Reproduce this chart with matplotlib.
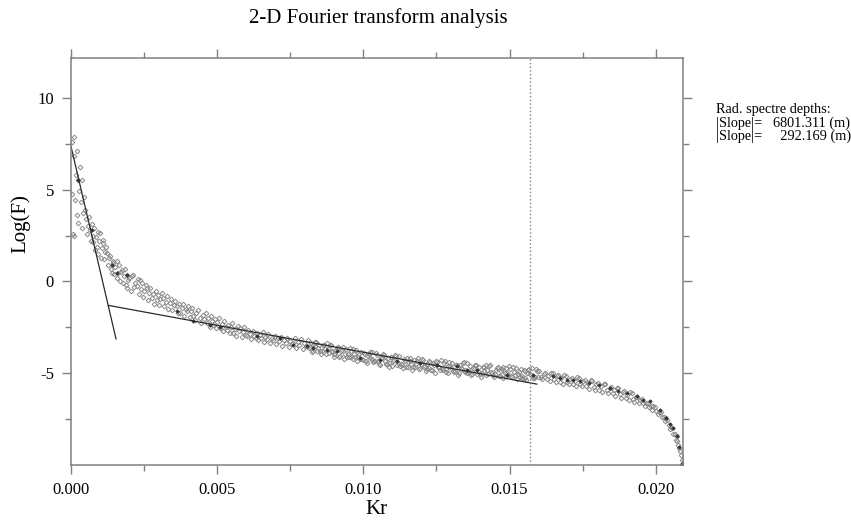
import numpy as np
import matplotlib.pyplot as plt
from matplotlib.ticker import MultipleLocator, FormatStrFormatter

plt.rcParams["font.family"] = ["Liberation Serif", "DejaVu Serif"]
plt.rcParams["axes.unicode_minus"] = False

# Radial spectrum samples: (Kr * 1e4, Log(F))
low_k = [
    (0.3, 7.6), (0.4, 4.77), (0.6, 2.6), (0.9, 6.8), (1.1, 7.85), (1.1, 2.48),
    (1.4, 4.44), (1.6, 5.8), (2.0, 7.07), (2.2, 3.6), (2.5, 5.53), (2.5, 3.17),
    (2.8, 4.9), (3.0, 6.25), (3.3, 4.31), (3.6, 5.53), (3.9, 2.9), (4.2, 3.72),
    (4.5, 4.6), (4.8, 3.9), (5.2, 3.4), (5.5, 2.6), (5.8, 3.0), (6.1, 3.5),
    (6.5, 2.8), (6.8, 2.2), (7.1, 3.1), (7.4, 2.5), (7.6, 2.17), (7.9, 2.9),
    (8.2, 1.7), (8.5, 2.4), (8.8, 1.9), (9.1, 2.7), (9.4, 1.5), (9.7, 2.2),
    (9.9, 2.64), (10.3, 1.3), (10.5, 1.8), (10.8, 2.1), (11.0, 2.27), (11.3, 1.2),
    (11.6, 1.6), (12.0, 1.9), (12.2, 1.54), (12.5, 0.9), (12.9, 1.3), (13.3, 1.36),
    (13.6, 0.7), (13.9, 0.46), (14.2, 1.1), (14.5, 1.0), (14.8, 0.4), (15.2, 0.8),
    (15.6, 1.09), (15.9, 0.2), (16.2, 0.46), (16.5, 0.9), (16.8, 0.0), (17.1, 0.5),
    (17.3, 0.64), (17.7, -0.1), (18.0, 0.3), (18.4, 0.7), (18.7, -0.2), (19.0, 0.36),
    (19.3, -0.36), (19.6, 0.1), (20.0, 0.18), (20.4, -0.5), (20.8, 0.3), (21.3, 0.36),
    (21.6, -0.3), (22.0, -0.1), (22.5, -0.27), (22.9, 0.15), (23.3, -0.7), (23.6, 0.09),
    (24.0, -0.4), (24.4, -0.1), (24.7, -0.82), (25.1, -0.5), (25.5, -0.2), (25.9, -0.36),
    (26.3, -1.0), (26.7, -0.6), (27.1, -0.35), (27.6, -0.9), (28.0, -0.7), (28.5, -1.2),
    (28.9, -0.5), (29.3, -1.0), (29.8, -0.75), (30.2, -1.3), (30.6, -0.95), (31.0, -0.6),
    (31.6, -0.9), (31.9, -1.36), (32.4, -1.1), (32.8, -0.8), (33.2, -1.5), (33.9, -1.18),
    (34.3, -0.95), (34.7, -1.55), (35.2, -1.3), (35.6, -1.05), (36.1, -1.36), (36.6, -1.7),
    (37.0, -1.2), (37.3, -1.72), (37.8, -1.45), (38.3, -1.25), (38.8, -1.85), (39.2, -1.5),
    (39.6, -1.63), (40.1, -1.35), (40.6, -1.95), (41.0, -1.6), (41.5, -1.45), (41.8, -1.9),
    (42.4, -2.1), (42.9, -1.7), (43.4, -1.55), (44.1, -1.99), (44.6, -2.25), (45.0, -1.8),
    (45.6, -2.05), (46.0, -1.7), (46.4, -2.26), (46.9, -2.0), (47.4, -2.45), (47.8, -1.9),
    (48.2, -2.15), (48.7, -2.35), (49.2, -2.05), (49.7, -2.55), (50.1, -2.2), (50.6, -2.0),
    (51.0, -2.53), (51.5, -2.3), (52.0, -2.7), (52.4, -2.15), (52.9, -2.45), (53.3, -2.62),
    (53.8, -2.35), (54.3, -2.8), (54.7, -2.5), (55.1, -2.25), (55.5, -2.8), (56.0, -2.6),
    (56.5, -2.95), (57.0, -2.4), (57.4, -2.7), (57.9, -2.55), (58.4, -3.0), (58.8, -2.75),
    (59.3, -2.5), (59.7, -2.9), (60.1, -2.99), (60.6, -2.65), (61.1, -2.85), (61.6, -3.15),
    (62.1, -2.7), (62.6, -2.95), (63.1, -3.1), (63.6, -2.8), (64.1, -3.2), (64.6, -2.9),
    (65.0, -3.08), (65.5, -2.75), (66.0, -3.3), (66.5, -3.0), (67.0, -3.15), (67.5, -2.85),
    (68.0, -3.35), (68.6, -3.05), (69.2, -3.17), (69.7, -2.95), (70.2, -3.4), (70.7, -3.1),
    (71.3, -3.25), (71.8, -3.0), (72.3, -3.5), (72.9, -3.2), (73.4, -3.35), (73.9, -3.05),
    (74.4, -3.55), (75.0, -3.25), (75.5, -3.4), (76.0, -3.35), (76.5, -3.1), (77.0, -3.6),
    (77.6, -3.3), (78.1, -3.45), (78.6, -3.15), (79.2, -3.65), (79.7, -3.35), (80.2, -3.5),
    (80.6, -3.53),
]

mid_k = [
    (81.0, -3.16), (81.6, -3.58), (82.3, -3.81), (82.9, -3.44), (83.6, -3.31), (84.2, -3.80),
    (84.9, -3.45), (85.5, -3.97), (86.2, -3.44), (86.8, -3.68), (87.5, -3.35), (88.1, -3.88),
    (88.8, -3.43), (89.4, -3.85), (90.1, -4.08), (90.7, -3.71), (91.4, -3.57), (92.0, -4.06),
    (92.7, -3.71), (93.3, -4.23), (94.0, -3.69), (94.6, -3.93), (95.3, -3.60), (95.9, -4.13),
    (96.6, -3.67), (97.2, -4.09), (97.9, -4.32), (98.5, -3.94), (99.2, -3.81), (99.8, -4.29),
    (100.5, -3.94), (101.1, -4.46), (101.8, -3.92), (102.4, -4.15), (103.1, -3.82), (103.7, -4.34),
    (104.4, -3.88), (105.0, -4.30), (105.7, -4.52), (106.3, -4.15), (107.0, -4.01), (107.6, -4.49),
    (108.3, -4.14), (108.9, -4.65), (109.6, -4.11), (110.2, -4.34), (110.9, -4.01), (111.5, -4.53),
    (112.2, -4.06), (112.8, -4.48), (113.5, -4.70), (114.1, -4.32), (114.8, -4.18), (115.4, -4.66),
    (116.1, -4.30), (116.7, -4.81), (117.4, -4.27), (118.0, -4.50), (118.7, -4.16), (119.3, -4.69),
    (120.0, -4.22), (120.6, -4.63), (121.3, -4.85), (121.9, -4.47), (122.6, -4.32), (123.2, -4.80),
    (123.9, -4.44), (124.5, -4.95), (125.2, -4.40), (125.8, -4.63), (126.5, -4.29), (127.1, -4.81),
    (127.8, -4.34), (128.4, -4.75), (129.1, -4.97), (129.7, -4.59), (130.4, -4.44), (131.0, -4.92),
    (131.7, -4.56), (132.3, -5.06), (133.0, -4.52), (133.6, -4.74), (134.3, -4.40), (134.9, -4.92),
    (135.6, -4.45), (136.2, -4.86), (136.9, -5.08), (137.5, -4.70), (138.2, -4.55), (138.8, -5.03),
    (139.5, -4.67), (140.1, -5.18), (140.8, -4.63), (141.4, -4.86), (142.1, -4.52), (142.7, -5.03),
    (143.4, -4.56), (144.0, -4.97), (144.7, -5.19), (145.3, -4.80), (146.0, -4.65), (146.6, -5.13),
    (147.3, -4.77), (147.9, -5.27), (148.6, -4.72), (149.2, -4.95), (149.9, -4.61), (150.5, -5.13),
    (151.2, -4.66), (151.8, -5.06), (152.5, -5.28), (153.1, -4.90), (153.8, -4.75), (154.4, -5.23),
    (155.1, -4.87), (155.7, -5.37), (156.4, -4.82), (157.0, -5.05), (157.7, -4.71), (158.3, -5.23),
    (159.0, -4.76), (159.6, -5.17),
]

mid_k_fill = [
    (81.3, -3.63), (82.0, -3.32), (82.6, -3.77), (83.3, -3.50), (83.9, -3.29), (84.6, -3.64),
    (85.2, -3.80), (85.9, -3.79), (86.5, -3.48), (87.2, -3.93), (87.8, -3.65), (88.5, -3.45),
    (89.1, -3.80), (89.8, -3.96), (90.4, -3.94), (91.1, -3.63), (91.7, -4.08), (92.4, -3.80),
    (93.0, -3.59), (93.7, -3.94), (94.3, -4.10), (95.0, -4.08), (95.6, -3.77), (96.3, -4.22),
    (96.9, -3.94), (97.6, -3.73), (98.2, -4.08), (98.9, -4.24), (99.5, -4.22), (100.2, -3.91),
    (100.8, -4.35), (101.5, -4.07), (102.1, -3.85), (102.8, -4.20), (103.4, -4.36), (104.1, -4.33),
    (104.7, -4.02), (105.4, -4.47), (106.0, -4.18), (106.7, -3.97), (107.3, -4.31), (108.0, -4.47),
    (108.6, -4.45), (109.3, -4.13), (109.9, -4.58), (110.6, -4.29), (111.2, -4.07), (111.9, -4.42),
    (112.5, -4.57), (113.2, -4.54), (113.8, -4.23), (114.5, -4.67), (115.1, -4.38), (115.8, -4.17),
    (116.4, -4.51), (117.1, -4.66), (117.7, -4.63), (118.4, -4.32), (119.0, -4.76), (119.7, -4.47),
    (120.3, -4.25), (121.0, -4.60), (121.6, -4.75), (122.3, -4.72), (122.9, -4.40), (123.6, -4.84),
    (124.2, -4.55), (124.9, -4.33), (125.5, -4.67), (126.2, -4.82), (126.8, -4.78), (127.5, -4.46),
    (128.1, -4.90), (128.8, -4.61), (129.4, -4.39), (130.1, -4.73), (130.7, -4.88), (131.4, -4.85),
    (132.0, -4.53), (132.7, -4.97), (133.3, -4.68), (134.0, -4.46), (134.6, -4.80), (135.3, -4.95),
    (135.9, -4.92), (136.6, -4.60), (137.2, -5.04), (137.9, -4.75), (138.5, -4.53), (139.2, -4.87),
    (139.8, -5.02), (140.5, -4.99), (141.1, -4.66), (141.8, -5.10), (142.4, -4.81), (143.1, -4.59),
    (143.7, -4.92), (144.4, -5.07), (145.0, -5.04), (145.7, -4.72), (146.3, -5.16), (147.0, -4.86),
    (147.6, -4.64), (148.3, -4.98), (148.9, -5.13), (149.6, -5.10), (150.2, -4.77), (150.9, -5.21),
    (151.5, -4.92), (152.2, -4.70), (152.8, -5.04), (153.5, -5.19), (154.1, -5.15), (154.8, -4.83),
    (155.4, -5.27), (156.1, -4.98), (156.7, -4.76), (157.4, -5.10), (158.0, -5.25), (158.7, -5.22),
    (159.3, -4.89),
]

high_k = [
    (160.2, -4.86), (160.7, -5.17), (161.2, -5.33), (161.7, -5.02), (162.2, -4.97), (162.7, -5.31),
    (163.2, -5.13), (163.7, -5.42), (164.2, -4.96), (164.7, -4.99), (165.2, -5.31), (165.7, -5.46),
    (166.2, -5.16), (166.7, -5.10), (167.2, -5.45), (167.7, -5.26), (168.2, -5.56), (168.7, -5.09),
    (169.2, -5.13), (169.7, -5.44), (170.2, -5.60), (170.7, -5.29), (171.2, -5.23), (171.7, -5.57),
    (172.2, -5.39), (172.7, -5.68), (173.2, -5.21), (173.7, -5.25), (174.2, -5.56), (174.7, -5.71),
    (175.2, -5.41), (175.7, -5.36), (176.2, -5.71), (176.7, -5.53), (177.2, -5.83), (177.7, -5.37),
    (178.2, -5.41), (178.7, -5.73), (179.2, -5.89), (179.7, -5.59), (180.2, -5.54), (180.7, -5.89),
    (181.2, -5.71), (181.7, -6.01), (182.2, -5.56), (182.7, -5.60), (183.2, -5.92), (183.7, -6.08),
    (184.2, -5.79), (184.7, -5.74), (185.2, -6.09), (185.7, -5.92), (186.2, -6.22), (186.7, -5.77),
    (187.2, -5.81), (187.7, -6.14), (188.2, -6.31), (188.7, -6.01), (189.2, -5.97), (189.7, -6.32),
    (190.2, -6.15), (190.7, -6.47), (191.2, -6.02), (191.7, -6.08), (192.2, -6.41), (192.7, -6.58),
    (193.2, -6.30), (193.7, -6.26), (194.2, -6.63), (194.7, -6.46), (195.2, -6.40), (195.7, -6.62),
    (196.2, -6.76), (196.7, -6.60), (197.2, -6.60), (197.7, -6.85), (198.2, -6.78), (198.7, -6.99),
    (199.2, -6.75), (199.7, -6.80), (200.2, -7.04), (200.7, -7.21), (201.2, -7.08), (201.7, -7.11),
    (202.2, -7.39), (202.7, -7.35), (203.2, -7.61), (203.6, -7.42), (204.0, -7.53), (204.4, -7.81),
    (204.8, -8.00), (205.2, -7.91), (205.6, -7.98), (206.0, -8.31), (206.4, -8.31), (206.8, -8.60),
    (207.1, -8.42), (207.4, -8.70), (207.7, -8.90), (208.0, -9.05), (208.3, -9.20), (208.6, -9.45),
    (208.9, -9.70), (209.1, -9.95),
]

# darker (overplotted) samples along the band
dark_k = [
    (2.5, 5.53), (7.1, 2.81), (13.9, 0.9), (15.6, 0.46), (19.0, 0.36), (36.1, -1.63),
    (41.8, -2.17), (47.5, -2.35), (51.0, -2.45), (63.5, -2.99), (71.5, -3.08), (76.0, -3.44),
    (80.6, -3.5), (82.9, -3.62), (87.5, -3.71), (90.9, -3.8), (98.9, -4.16), (105.7, -4.26),
    (111.4, -4.35), (119.4, -4.43), (125.1, -4.53), (131.9, -4.62), (135.4, -4.8), (138.8, -4.8),
    (149.0, -5.07), (158.1, -5.07), (165.0, -5.16), (167.3, -5.25), (169.6, -5.34), (171.8, -5.34),
    (174.1, -5.43), (177.0, -5.5), (180.5, -5.65), (184.4, -5.8), (187.0, -5.95), (190.0, -6.07),
    (193.5, -6.25), (195.5, -6.45), (198.0, -6.52), (201.5, -6.97), (203.5, -7.4), (205.0, -7.75),
    (206.0, -7.97), (207.2, -8.42), (207.8, -9.0), (209.0, -9.9),
]

# fitted segments (Log(F) = intercept - |slope| * Kr)
slope_deep = 6801.311
slope_shallow = 292.169
icpt_deep = 7.35
icpt_shallow = -0.926
kr_deep = (0.0, 0.00154)
kr_shallow = (0.00128, 0.01593)
kr_cutoff = 0.0157

GRAY = "#8a8a8a"
FRAME = "#808080"

fig = plt.figure(figsize=(8.51, 5.25), dpi=100)
ax = fig.add_axes([71 / 851, 60 / 525, 611.7 / 851, 407.3 / 525])

for pts in (low_k, mid_k, mid_k_fill, high_k):
    k, f = np.array(pts).T
    ax.plot(k * 1e-4, f, linestyle="none", marker="D", markersize=2.4,
            markerfacecolor="none", markeredgecolor=GRAY, markeredgewidth=0.7)

k, f = np.array(dark_k).T
ax.plot(k * 1e-4, f, linestyle="none", marker="D", markersize=1.8,
        markerfacecolor="#333333", markeredgecolor="#333333", markeredgewidth=0.5)

# regression lines
for icpt, slope, (k0, k1) in ((icpt_deep, slope_deep, kr_deep),
                              (icpt_shallow, slope_shallow, kr_shallow)):
    kk = np.array([k0, k1])
    ax.plot(kk, icpt - slope * kk, color="#2b2b2b", linewidth=0.9)

ax.axvline(kr_cutoff, color=FRAME, linestyle=":", linewidth=1.0)

ax.set_xlim(0, 0.02092)
ax.set_ylim(-9.98, 12.17)
ax.xaxis.set_major_locator(MultipleLocator(0.005))
ax.xaxis.set_minor_locator(MultipleLocator(0.0025))
ax.xaxis.set_major_formatter(FormatStrFormatter("%.3f"))
ax.set_yticks([-5, 0, 5, 10])
ax.yaxis.set_minor_locator(MultipleLocator(2.5))

ax.tick_params(which="both", direction="out", top=True, right=True,
               color=FRAME, width=1.0, labelsize=12, labelcolor="black")
ax.tick_params(which="major", length=6.2, pad=6)
ax.tick_params(which="minor", length=4.0)
for sp in ax.spines.values():
    sp.set_color(FRAME)
    sp.set_linewidth(1.1)

ax.set_xlabel("Kr", fontsize=15)
ax.xaxis.set_label_coords(0.5, -0.085)
ax.set_ylabel("Log(F)", fontsize=15)
ax.yaxis.set_label_coords(-0.066, 0.594)

fig.text(0.445, 0.966, "2-D Fourier transform analysis", ha="center",
         va="center", fontsize=15)

fig.text(715.7 / 851, 1 - 110 / 525, "Rad. spectre depths:", fontsize=10.3,
         va="center")
fig.text(715.7 / 851, 1 - 123 / 525, f"|Slope|=   {slope_deep:.3f} (m)",
         fontsize=10.3, va="center")
fig.text(715.7 / 851, 1 - 136 / 525, f"|Slope|=     {slope_shallow:.3f} (m)",
         fontsize=10.3, va="center")

fig.savefig("out.png", dpi=100)
